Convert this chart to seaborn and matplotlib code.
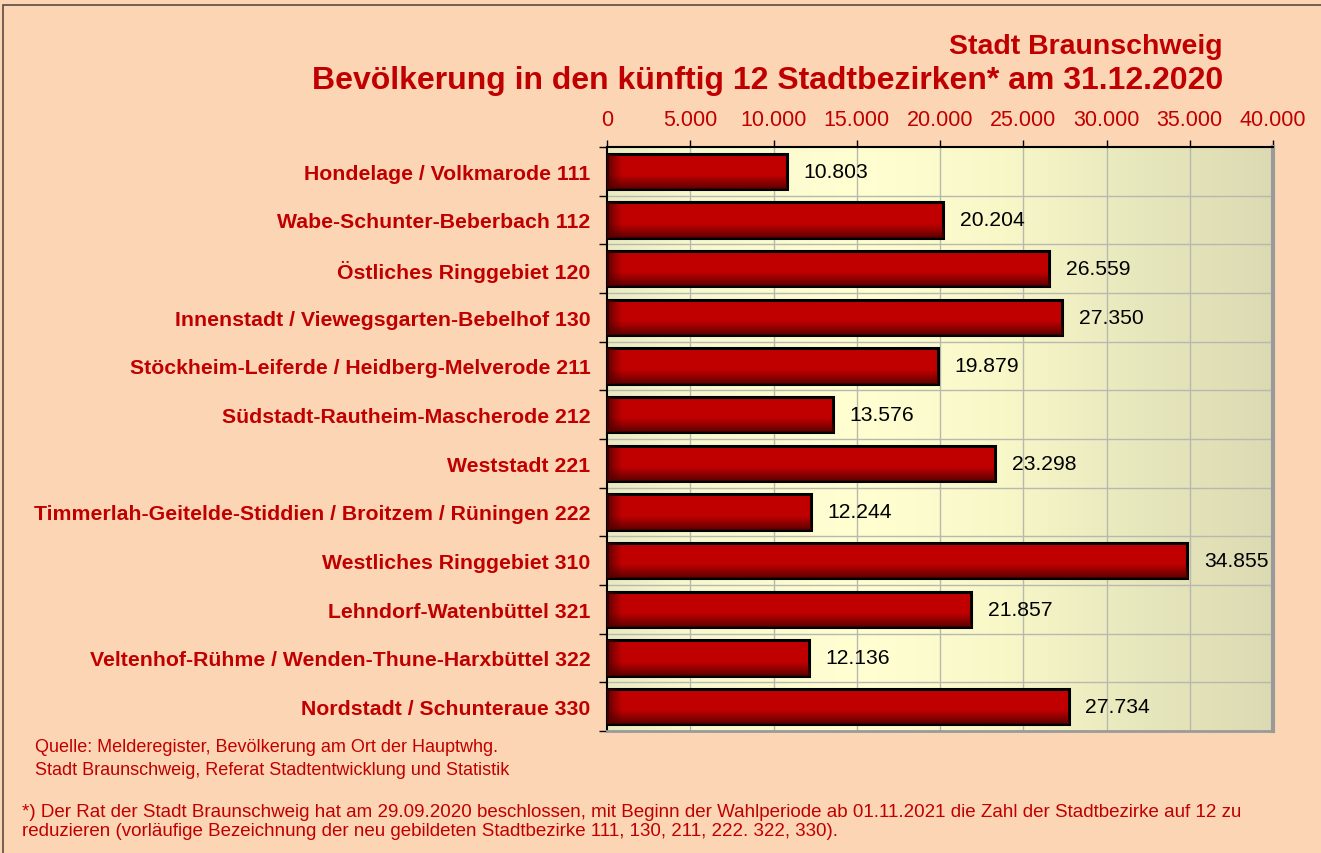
import numpy as np
import pandas as pd
import matplotlib
matplotlib.use("Agg")
import matplotlib.pyplot as plt
from matplotlib.colors import LinearSegmentedColormap
import seaborn as sns

districts = [
    "Hondelage / Volkmarode 111",
    "Wabe-Schunter-Beberbach 112",
    "Östliches Ringgebiet 120",
    "Innenstadt / Viewegsgarten-Bebelhof 130",
    "Stöckheim-Leiferde / Heidberg-Melverode 211",
    "Südstadt-Rautheim-Mascherode 212",
    "Weststadt 221",
    "Timmerlah-Geitelde-Stiddien / Broitzem / Rüningen 222",
    "Westliches Ringgebiet 310",
    "Lehndorf-Watenbüttel 321",
    "Veltenhof-Rühme / Wenden-Thune-Harxbüttel 322",
    "Nordstadt / Schunteraue 330",
]
population = [10803, 20204, 26559, 27350, 19879, 13576, 23298, 12244, 34855, 21857, 12136, 27734]
x_ticks = [0, 5000, 10000, 15000, 20000, 25000, 30000, 35000, 40000]

title1 = "Stadt Braunschweig"
title2 = "Bevölkerung in den künftig 12 Stadtbezirken* am 31.12.2020"
source = "Quelle: Melderegister, Bevölkerung am Ort der Hauptwhg.\nStadt Braunschweig, Referat Stadtentwicklung und Statistik"
note = ("*) Der Rat der Stadt Braunschweig hat am 29.09.2020 beschlossen, mit Beginn der Wahlperiode ab 01.11.2021 die Zahl der Stadtbezirke auf 12 zu\n"
        "reduzieren (vorläufige Bezeichnung der neu gebildeten Stadtbezirke 111, 130, 211, 222. 322, 330).")

df = pd.DataFrame({"district": districts, "population": population})

sns.set_style("white")
plt.rcParams["font.family"] = ["Liberation Sans", "DejaVu Sans"]

RED = "#C00000"
BG = "#FCD5B5"

fig = plt.figure(figsize=(13.21, 8.54), dpi=100, facecolor=BG)
ax = fig.add_axes([607 / 1321, 1 - 732 / 854, (1273 - 607) / 1321, (732 - 148) / 854])

sns.barplot(data=df, y="district", x="population", orient="h", color=RED,
            edgecolor="black", linewidth=2.2, width=0.72, saturation=1, ax=ax, zorder=3)

ax.set_xlim(0, 40000)
ax.set_ylim(len(districts) - 0.5, -0.5)

# background gradient
bg_cmap = LinearSegmentedColormap.from_list(
    "bg", [(0, "#EAEAC2"), (0.12, "#F8F8CE"), (0.38, "#FFFFD2"), (0.6, "#F7F7C8"), (0.82, "#E6E6BC"), (1, "#DCDAB2")])
grad = np.linspace(0, 1, 256).reshape(1, -1)
ax.imshow(grad, cmap=bg_cmap, extent=[0, 40000, len(districts) - 0.5, -0.5], aspect="auto", zorder=0)

# bar shading
shade = LinearSegmentedColormap.from_list("sh", [(0, (0.35, 0, 0, 0.0)), (0.6, (0.35, 0, 0, 0.0)), (1, (0.3, 0, 0, 0.85))])
shade_l = LinearSegmentedColormap.from_list("shl", [(0, (0.3, 0, 0, 0.8)), (1, (0.3, 0, 0, 0.0))])
for p in ax.patches:
    x0, y0, w, h = p.get_x(), p.get_y(), p.get_width(), p.get_height()
    im = ax.imshow(np.linspace(0, 1, 64).reshape(-1, 1), cmap=shade, extent=[x0, x0 + w, y0 + h, y0],
                   aspect="auto", zorder=3.5, vmin=0, vmax=1)
    im.set_clip_path(p)
    im2 = ax.imshow(np.linspace(0, 1, 64).reshape(1, -1), cmap=shade_l, extent=[x0, x0 + 900, y0 + h, y0],
                    aspect="auto", zorder=3.5, vmin=0, vmax=1)
    im2.set_clip_path(p)
ax.set_xlim(0, 40000)
ax.set_ylim(len(districts) - 0.5, -0.5)

# value labels
labels = [f"{v:,}".replace(",", ".") for v in population]
ax.bar_label(ax.containers[0], labels=labels, padding=12, fontsize=15.2, color="black", zorder=5)

# grid
for xv in x_ticks[1:-1]:
    ax.axvline(xv, color="#B8B8B0", lw=1, zorder=1)
for yb in np.arange(0.5, len(districts) - 0.5, 1):
    ax.axhline(yb, color="#B8B8B0", lw=1, zorder=1)

# axes
ax.xaxis.tick_top()
ax.set_xticks(x_ticks)
ax.set_xticklabels([f"{v:,}".replace(",", ".") for v in x_ticks], color=RED, fontsize=15.5)
ax.tick_params(axis="x", direction="out", length=5, width=1, color="black", pad=7, top=True, bottom=False)
ax.set_yticks(range(len(districts)))
ax.set_yticklabels(districts, color=RED, fontsize=15.3, fontweight="bold")
ax.tick_params(axis="y", length=0, pad=12)
ax.set_yticks(np.arange(-0.5, len(districts), 1), minor=True)
ax.tick_params(axis="y", which="minor", length=6, width=1, color="black", left=True)
ax.set_xlabel("")
ax.set_ylabel("")

for s in ["top", "left"]:
    ax.spines[s].set_visible(True)
    ax.spines[s].set_color("black")
    ax.spines[s].set_linewidth(1.5)
ax.spines["right"].set_color("#9A9A9A")
ax.spines["right"].set_linewidth(3)
ax.spines["bottom"].set_color("#9A9A9A")
ax.spines["bottom"].set_linewidth(2)

# titles
fig.text(1223 / 1321, 1 - 47 / 854, title1, ha="right", va="center", color=RED, fontsize=20.5, fontweight="bold")
fig.text(1223 / 1321, 1 - 81 / 854, title2, ha="right", va="center", color=RED, fontsize=23, fontweight="bold")

# footers
fig.text(35 / 1321, 1 - 759 / 854, source, ha="left", va="center", color=RED, fontsize=13, linespacing=1.42)
fig.text(22 / 1321, 1 - 822 / 854, note, ha="left", va="center", color=RED, fontsize=13.5, linespacing=1.12)

# figure border
border = plt.Rectangle((3 / 1321, -0.01), 1.0, 1 - 6 / 854 + 0.01, transform=fig.transFigure,
                       fill=False, edgecolor="#5A4A40", linewidth=1.2)
fig.patches.append(border)

fig.savefig("out.png", dpi=100, facecolor=BG)
